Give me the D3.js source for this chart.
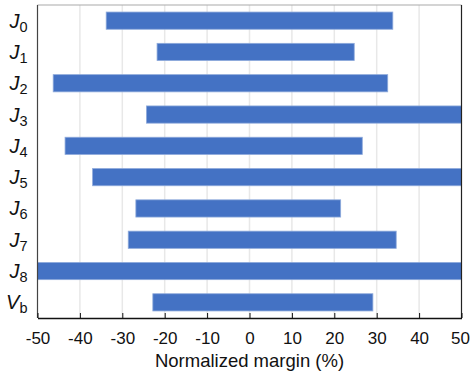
<!DOCTYPE html>
<html>
<head>
<meta charset="utf-8">
<script src="https://cdn.jsdelivr.net/npm/d3@7"></script>
<style>
  body { margin: 0; background: #fff; }
  svg { display: block; font-family: "Liberation Sans", Arial, sans-serif; }
</style>
</head>
<body>
<div id="chart"></div>
<script>
// row labels: main letter + subscript
const names = ["J", "J", "J", "J", "J", "J", "J", "J", "J", "V"];
const subs = ["0", "1", "2", "3", "4", "5", "6", "7", "8", "b"];
// lower / upper normalized margin (%)
const lows = [-33.8, -21.8, -46.3, -24.3, -43.5, -37.0, -26.8, -28.6, -50, -22.8];
const highs = [33.8, 24.7, 32.6, 50, 26.6, 50, 21.5, 34.6, 50, 29.1];
const xTicks = [-50, -40, -30, -20, -10, 0, 10, 20, 30, 40, 50];

const W = 470, H = 374;
const margin = { top: 5, right: 8.5, bottom: 56, left: 37.5 };
const width = W - margin.left - margin.right,
    height = H - margin.top - margin.bottom;

const rows = d3.range(names.length);

const x = d3.scaleLinear().domain([-50, 50]).range([0, width]);
const y = d3.scaleBand().domain(rows).range([0, height]).paddingInner(0.45).paddingOuter(0.225);

const svg = d3.select("#chart").append("svg")
    .attr("width", W)
    .attr("height", H);

const g = svg.append("g")
    .attr("transform", "translate(" + margin.left + "," + margin.top + ")");

// vertical gridlines
g.append("g")
    .selectAll("line")
    .data(xTicks.slice(1, -1))
    .enter().append("line")
    .attr("x1", d => x(d)).attr("x2", d => x(d))
    .attr("y1", 0).attr("y2", height)
    .attr("stroke", "#e8e8e8")
    .attr("stroke-width", 1.5);

// bars
g.append("g")
    .selectAll("rect")
    .data(rows)
    .enter().append("rect")
    .attr("x", i => x(lows[i]))
    .attr("y", i => y(i))
    .attr("width", i => x(highs[i]) - x(lows[i]))
    .attr("height", y.bandwidth())
    .attr("fill", "#4472c4")
    .attr("stroke", "#8eaadb")
    .attr("stroke-width", 0.8);

// frame
g.append("line").attr("x1", 0).attr("x2", width).attr("y1", 0).attr("y2", 0)
    .attr("stroke", "#aaa").attr("stroke-width", 1.2);
g.append("line").attr("x1", width).attr("x2", width).attr("y1", 0).attr("y2", height)
    .attr("stroke", "#222").attr("stroke-width", 1.2);
g.append("line").attr("x1", 0).attr("x2", 0).attr("y1", 0).attr("y2", height)
    .attr("stroke", "#444").attr("stroke-width", 1.2);

// bottom axis with inward ticks, plain hyphen for negatives
const xAxis = d3.axisBottom(x)
    .tickValues(xTicks)
    .tickSizeInner(-5)
    .tickSizeOuter(0)
    .tickPadding(14)
    .tickFormat(d => String(d));

const ax = g.append("g")
    .attr("transform", "translate(0," + height + ")")
    .call(xAxis);
ax.attr("font-size", 17).attr("font-family", "Liberation Sans, Arial, sans-serif");
ax.select(".domain").attr("stroke", "#111").attr("stroke-width", 1.4);
ax.selectAll(".tick line").attr("stroke", "#111").attr("stroke-width", 1);
ax.selectAll(".tick text").attr("fill", "#111")
    .attr("dx", d => d === 50 ? -1.5 : 0);

// x title
g.append("text")
    .attr("x", width / 2)
    .attr("y", height + 49)
    .attr("text-anchor", "middle")
    .attr("font-size", 18.5)
    .attr("fill", "#111")
    .text("Normalized margin (%)");

// y labels
const lab = g.append("g")
    .selectAll("text")
    .data(rows)
    .enter().append("text")
    .attr("x", -10)
    .attr("y", i => y(i) + y.bandwidth() / 2 + 7)
    .attr("text-anchor", "end")
    .attr("fill", "#111")
    .attr("font-size", 20);

lab.append("tspan")
    .attr("font-style", "italic")
    .text(i => names[i]);
lab.append("tspan")
    .attr("font-size", 14.5)
    .attr("dy", 4)
    .text(i => subs[i]);
</script>
</body>
</html>
